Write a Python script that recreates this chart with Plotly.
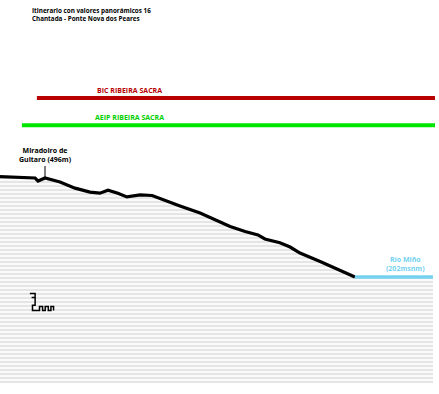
import plotly.graph_objects as go

# Profile data: distance (km) and elevation (m)
dist_km = [0.0, 0.67, 1.17, 1.27, 1.4, 1.5, 2.0, 2.5, 3.0, 3.33, 3.6, 3.93, 4.23, 4.67,
           5.07, 5.5, 6.0, 6.67, 7.17, 7.67, 8.17, 8.6, 8.83, 9.33, 9.67, 10.0, 10.67,
           11.33, 11.83]
elev_m = [500, 499, 496, 487, 493, 496, 484, 466, 454, 451, 460, 451, 440, 446,
          444, 429, 413, 392, 371, 352, 337, 327, 315, 304, 291, 273, 248,
          223, 202]

river_km = [11.83, 14.43]
river_m = [202, 202]

bic_km = [1.23, 14.5]
bic_m = [734, 734]
aeip_km = [0.73, 14.5]
aeip_m = [653, 653]

base_m = -113
x_range = [0, 14.633]
y_range = [-145.5, 1024.7]

title_lines = ["Itinerario con valores panorámicos 16", "Chantada - Ponte Nova dos Peares"]
mirador_label = "Miradoiro de<br>Guitaro (496m)"
mirador_km = 1.5
mirador_m = 496
river_label = "Río Miño<br>(202msnm)"

FONT = "Open Sans"

fig = go.Figure()

# baseline for fill
all_km = dist_km + river_km[1:]
all_m = elev_m + river_m[1:]
fig.add_trace(go.Scatter(x=[all_km[0], all_km[-1]], y=[base_m, base_m], mode="lines",
                         line=dict(width=0, color="rgba(0,0,0,0)"), hoverinfo="skip",
                         showlegend=False))
fig.add_trace(go.Scatter(x=all_km, y=all_m, mode="lines", fill="tonexty",
                         fillcolor="white",
                         fillpattern=dict(shape="-", size=4, solidity=0.5,
                                          fgcolor="#d0d0d0", bgcolor="#fafafa"),
                         line=dict(width=0, color="rgba(0,0,0,0)"), hoverinfo="skip",
                         showlegend=False))
# profile line
fig.add_trace(go.Scatter(x=dist_km, y=elev_m, mode="lines",
                         line=dict(color="black", width=3.2), showlegend=False))
# river
fig.add_trace(go.Scatter(x=river_km, y=river_m, mode="lines",
                         line=dict(color="#74d2f0", width=3.5), showlegend=False))
# protection lines
fig.add_trace(go.Scatter(x=bic_km, y=bic_m, mode="lines",
                         line=dict(color="#b80000", width=4), showlegend=False))
fig.add_trace(go.Scatter(x=aeip_km, y=aeip_m, mode="lines",
                         line=dict(color="#00e600", width=4), showlegend=False))

fig.add_annotation(x=4.33, y=bic_m[0], yshift=7, text="<b>BIC RIBEIRA SACRA</b>",
                   showarrow=False, font=dict(family=FONT, size=7, color="#b80000"))
fig.add_annotation(x=4.33, y=aeip_m[0], yshift=8, text="<b>AEIP RIBEIRA SACRA</b>",
                   showarrow=False, font=dict(family=FONT, size=7, color="#00d000"))

fig.add_annotation(x=mirador_km, y=mirador_m, ax=0, ay=-12, axref="pixel", ayref="pixel",
                   text="<b>" + mirador_label + "</b>", showarrow=True, arrowhead=0,
                   arrowwidth=1, arrowcolor="black", standoff=0,
                   font=dict(family=FONT, size=7, color="black"), yanchor="bottom")

fig.add_annotation(x=13.5, y=river_m[0], yshift=13, text="<b>" + river_label + "</b>",
                   showarrow=False, font=dict(family=FONT, size=7, color="#74d2f0"))

fig.add_annotation(xref="paper", yref="paper", x=30 / 439, y=1 - 4 / 394,
                   xanchor="left", yanchor="top", align="left",
                   text="<b>" + "<br>".join(title_lines) + "</b>", showarrow=False,
                   font=dict(family=FONT, size=6.3, color="black"))

# small scale icon (decoration)
fig.add_shape(type="path", xref="paper", yref="paper",
              path="M 0.068 0.255 L 0.08 0.255 L 0.08 0.245 L 0.072 0.245 L 0.08 0.245 "
                   "L 0.08 0.225 L 0.074 0.225 L 0.074 0.212 L 0.09 0.212 L 0.09 0.222 "
                   "L 0.097 0.222 L 0.097 0.212 L 0.103 0.212 L 0.103 0.222 L 0.11 0.222 "
                   "L 0.11 0.212 L 0.116 0.212 L 0.116 0.222 L 0.122 0.222 L 0.122 0.212",
              line=dict(color="black", width=1.5))

fig.update_layout(width=439, height=394, autosize=False,
                  margin=dict(l=0, r=0, t=0, b=0),
                  paper_bgcolor="white", plot_bgcolor="white",
                  xaxis=dict(range=x_range, visible=False, fixedrange=True),
                  yaxis=dict(range=y_range, visible=False, fixedrange=True),
                  showlegend=False)

fig.write_html("out.html", config={"displayModeBar": False},
               post_script="document.body.style.margin='0';document.body.style.overflow='hidden';")
